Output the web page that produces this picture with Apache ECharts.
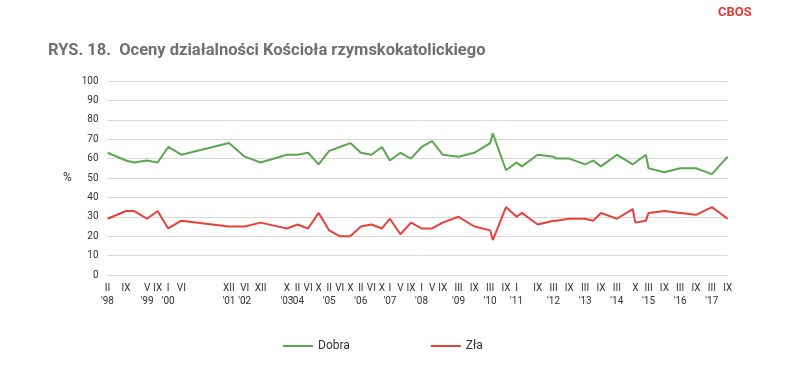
<!DOCTYPE html>
<html><head><meta charset="utf-8">
<script src="https://cdn.jsdelivr.net/npm/echarts@6/dist/echarts.min.js"></script>
<style>html,body{margin:0;padding:0;background:#fff}#c{width:812px;height:370px}</style>
</head><body><div id="c"></div>
<script>
// months counted from II 1998 (0)
const months = [0,7,10,15,19,23,28,46,52,58,68,72,76,80,84,88,92,96,100,104,107,111,115,119,123,127,133,139,145,146,151,155,157,163,169,170,175,181,184,187,193,199,200,204,205,211,217,223,229,235];
const dobra  = [63,59,58,59,58,66,62,68,61,58,62,62,63,57,64,66,68,63,62,66,59,63,60,66,69,62,61,63,68,73,54,58,56,62,61,60,60,57,59,56,62,57,58,62,55,53,55,55,52,61];
const zla    = [29,33,33,29,33,24,28,25,25,27,24,26,24,32,23,20,20,25,26,24,29,21,27,24,24,27,30,25,23,18,35,30,32,26,28,28,29,29,28,32,29,34,27,28,32,33,32,31,35,29];

const labelMonths = [0,7,15,19,23,28,46,52,58,68,72,76,80,84,88,92,96,100,104,107,111,115,119,123,127,133,139,145,151,155,163,169,175,181,187,193,200,205,211,217,223,229,235];
const monthLabels = ['II','IX','V','IX','I','VI','XII','VI','XII','X','II','VI','X','II','VI','X','II','VI','X','I','V','IX','I','V','IX','III','IX','III','IX','I','IX','III','IX','III','IX','III','X','III','IX','III','IX','III','IX'];
const yearMonths = [0,15,23,46,52,68,72,84,96,107,119,133,145,155,169,181,193,205,217,229];
const yearLabels = ["'98","'99","'00","'01","'02","'03","'04","'05","'06","'07","'08","'09","'10","'11","'12","'13","'14","'15","'16","'17"];

const monthMap = {}; labelMonths.forEach((m,i)=>monthMap[m]=monthLabels[i]);
const yearMap = {}; yearMonths.forEach((m,i)=>yearMap[m]=yearLabels[i]);

const chart = echarts.init(document.getElementById('c'), null, {renderer:'canvas'});
const FONT = 'Roboto, "Liberation Sans", sans-serif';
chart.setOption({
  animation:false,
  textStyle:{fontFamily:FONT},
  title:[{
    text:'RYS. 18.  Oceny działalności Kościoła rzymskokatolickiego',
    left:43, top:37,
    textStyle:{fontFamily:FONT, fontSize:16.5, fontWeight:'bold', color:'#707070'}
  },{
    text:'CBOS', left:713, top:1,
    textStyle:{fontFamily:FONT, fontSize:13, fontWeight:'bold', color:'#e5392f'}
  }],
  graphic:[{type:'text', left:63, top:172, style:{text:'%', font:'12px '+FONT, fill:'#333'}}],
  legend:{
    left:278, top:335, itemWidth:30, itemHeight:2, itemGap:81, icon:'rect',
    textStyle:{fontSize:12, color:'#333', fontFamily:FONT},
    data:['Dobra','Zła']
  },
  grid:{left:107.5, right:84.3, top:81, bottom:95, containLabel:false},
  xAxis:[{
    type:'value', min:0, max:235,
    axisLine:{show:true, lineStyle:{color:'#d9d9d9', width:1}},
    axisTick:{show:false},
    splitLine:{show:false},
    axisLabel:{
      customValues: labelMonths,
      margin:7, fontSize:10, color:'#333', lineHeight:13,
      formatter:function(v){ const m=Math.round(v); return (monthMap[m]||'') + (yearMap[m] ? '\n'+yearMap[m] : '\n '); }
    }
  }],
  yAxis:{
    type:'value', min:0, max:100, interval:10,
    axisLine:{show:false}, axisTick:{show:false},
    axisLabel:{fontSize:10, color:'#333', margin:9},
    splitLine:{lineStyle:{color:'#d9d9d9', width:1}}
  },
  series:[
    {name:'Dobra', type:'line', symbol:'none', data:months.map((m,i)=>[m,dobra[i]]),
     lineStyle:{color:'#5aa84e', width:2}, itemStyle:{color:'#5aa84e'}},
    {name:'Zła', type:'line', symbol:'none', data:months.map((m,i)=>[m,zla[i]]),
     lineStyle:{color:'#e8413a', width:2}, itemStyle:{color:'#e8413a'}}
  ]
});
</script></body></html>
